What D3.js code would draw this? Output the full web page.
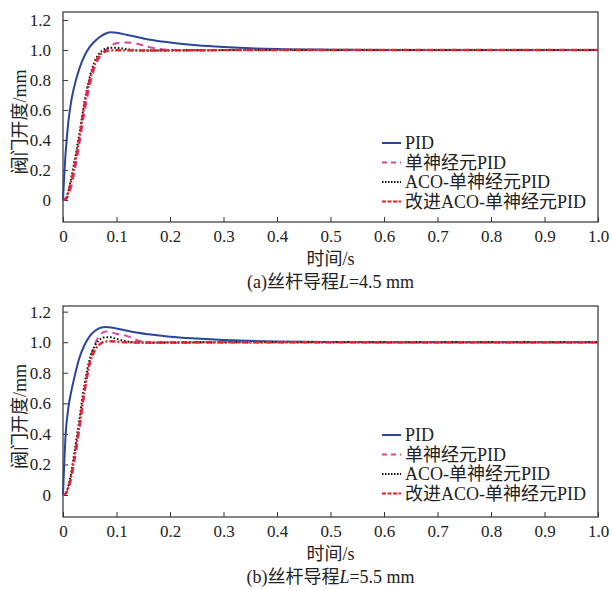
<!DOCTYPE html>
<html>
<head>
<meta charset="utf-8">
<script src="https://cdn.jsdelivr.net/npm/d3@7"></script>
<style>
	body { margin: 0; background: #fff; }
	text { font-family: "Liberation Serif", "Noto Sans CJK SC", serif; fill: #222; }
</style>
</head>
<body>
<div class="c-svg"></div>
<script>
//DATA
//-------------------------------------------------------------------------

const seriesNames = ["PID", "单神经元PID", "ACO-单神经元PID", "改进ACO-单神经元PID"];
const xTicks = [0, 0.1, 0.2, 0.3, 0.4, 0.5, 0.6, 0.7, 0.8, 0.9, 1.0];
const yTicks = [0, 0.2, 0.4, 0.6, 0.8, 1.0, 1.2];
const captions = ["(a)丝杆导程", "(b)丝杆导程"];
const leads = ["=4.5 mm", "=5.5 mm"];

const time = [0, 0.005, 0.01, 0.015, 0.02, 0.03, 0.04, 0.05, 0.06, 0.07, 0.08, 0.09, 0.1, 0.12, 0.14, 0.16, 0.2, 0.25, 0.3, 0.4, 0.5, 0.6, 1.0];

//panel (a) L=4.5 mm
const pidA    = [0, 0.32, 0.52, 0.65, 0.74, 0.87, 0.96, 1.02, 1.06, 1.09, 1.11, 1.118, 1.115, 1.1, 1.085, 1.07, 1.05, 1.032, 1.02, 1.006, 1.002, 1.0, 1.0];
const neuronA = [0, 0.004, 0.03, 0.08, 0.16, 0.36, 0.58, 0.76, 0.89, 0.96, 1.0, 1.03, 1.045, 1.05, 1.04, 1.02, 1.0, 0.998, 0.999, 1.0, 1.0, 1.0, 1.0];
const acoA    = [0, 0.01, 0.06, 0.14, 0.23, 0.43, 0.65, 0.82, 0.93, 0.985, 1.008, 1.015, 1.014, 1.005, 0.998, 0.996, 0.997, 0.998, 0.999, 1.0, 1.0, 1.0, 1.0];
const impA    = [0, 0.008, 0.05, 0.12, 0.2, 0.4, 0.63, 0.8, 0.91, 0.97, 0.99, 0.997, 0.998, 0.997, 0.996, 0.996, 0.997, 0.998, 0.999, 1.0, 1.0, 1.0, 1.0];

//panel (b) L=5.5 mm
const pidB    = [0, 0.4, 0.57, 0.67, 0.75, 0.89, 0.98, 1.04, 1.075, 1.095, 1.1, 1.097, 1.09, 1.075, 1.062, 1.052, 1.036, 1.024, 1.015, 1.005, 1.002, 1.0, 1.0];
const neuronB = [0, 0.008, 0.04, 0.1, 0.19, 0.41, 0.66, 0.87, 0.99, 1.05, 1.07, 1.065, 1.055, 1.04, 1.012, 0.998, 0.996, 0.998, 0.999, 1.0, 1.0, 1.0, 1.0];
const acoB    = [0, 0.012, 0.06, 0.14, 0.25, 0.48, 0.72, 0.89, 0.98, 1.02, 1.033, 1.032, 1.022, 1.005, 0.998, 0.997, 0.998, 0.999, 1.0, 1.0, 1.0, 1.0, 1.0];
const impB    = [0, 0.01, 0.05, 0.12, 0.22, 0.44, 0.68, 0.86, 0.95, 0.99, 1.005, 1.006, 1.003, 0.999, 0.998, 0.998, 0.999, 1.0, 1.0, 1.0, 1.0, 1.0, 1.0];


//OPTIONS
//-------------------------------------------------------------------------

const opts = {
	width: 612,
	height: 590,
	left: 63,
	right: 598
};

const styles = [
	{ color: "#2b4698", width: 2, dash: null },
	{ color: "#d2479b", width: 2, dash: "7,5" },
	{ color: "#111111", width: 2, dash: "1.6,2" },
	{ color: "#e3242b", width: 2.4, dash: "6,2,2,2" }
];

const panels = [
	{ top: 12, bottom: 222, domain: [-0.147, 1.253], series: [pidA, neuronA, acoA, impA], legendY: 143 },
	{ top: 306, bottom: 517, domain: [-0.144, 1.237], series: [pidB, neuronB, acoB, impB], legendY: 435 }
];

const svg = d3.select(".c-svg")
	.append("svg")
	.attr("width", opts.width)
	.attr("height", opts.height);

const x = d3.scaleLinear()
	.domain([0, 1])
	.range([opts.left, opts.right]);


//PANELS
//-------------------------------------------------------------------------

panels.forEach((p, i) => {

	const y = d3.scaleLinear()
		.domain(p.domain)
		.range([p.bottom, p.top]);

	const g = svg.append("g").attr("class", "panel");

	//axes, ticks inward
	const xAxis = d3.axisBottom(x)
		.tickValues(xTicks)
		.tickSizeInner(-5)
		.tickSizeOuter(0)
		.tickPadding(10)
		.tickFormat((d) => d === 0 ? "0" : d3.format(".1f")(d));

	const yAxis = d3.axisLeft(y)
		.tickValues(yTicks)
		.tickSizeInner(-5)
		.tickSizeOuter(0)
		.tickPadding(12)
		.tickFormat((d) => d === 0 ? "0" : d3.format(".1f")(d));

	g.append("g")
		.attr("class", "axis x_axis")
		.attr("transform", `translate(0 ${p.bottom})`)
		.call(xAxis);

	g.append("g")
		.attr("class", "axis y_axis")
		.attr("transform", `translate(${opts.left} 0)`)
		.call(yAxis);

	g.selectAll(".axis text")
		.style("font-size", "17px")
		.style("font-family", "Liberation Serif, serif")
		.attr("fill", "#222");

	g.selectAll(".x_axis text").attr("y", 8);

	g.selectAll(".axis line").attr("stroke", "#333");
	g.selectAll(".axis .domain").remove();

	//frame
	g.append("rect")
		.attr("x", opts.left)
		.attr("y", p.top)
		.attr("width", opts.right - opts.left)
		.attr("height", p.bottom - p.top)
		.attr("fill", "none")
		.attr("stroke", "#333")
		.attr("stroke-width", 1.2);

	//lines
	const line = d3.line()
		.x((d, k) => x(time[k]))
		.y((d) => y(d))
		.curve(d3.curveMonotoneX);

	p.series.forEach((s, k) => {
		g.append("path")
			.datum(s)
			.attr("d", line)
			.attr("fill", "none")
			.attr("stroke", styles[k].color)
			.attr("stroke-width", styles[k].width)
			.attr("stroke-dasharray", styles[k].dash);
	});

	//legend
	const lg = g.append("g")
		.attr("transform", `translate(382 ${p.legendY})`);

	seriesNames.forEach((name, k) => {
		const row = lg.append("g").attr("transform", `translate(0 ${k * 19.5})`);
		row.append("line")
			.attr("x1", 0).attr("x2", 19)
			.attr("y1", 0).attr("y2", 0)
			.attr("stroke", styles[k].color)
			.attr("stroke-width", 2)
			.attr("stroke-dasharray", k === 1 ? "5,4" : k === 2 ? "1.5,1.5" : k === 3 ? "4,1.5" : null);
		row.append("text")
			.attr("x", 23)
			.attr("y", 6)
			.style("font-size", "18px")
			.text(name);
	});

	//axis titles
	g.append("text")
		.attr("x", (opts.left + opts.right) / 2)
		.attr("y", p.bottom + 43)
		.attr("text-anchor", "middle")
		.style("font-size", "18px")
		.text("时间/s");

	const cap = g.append("text")
		.attr("x", (opts.left + opts.right) / 2)
		.attr("y", p.bottom + 66)
		.attr("text-anchor", "middle")
		.style("font-size", "18px");
	cap.append("tspan").text(captions[i]);
	cap.append("tspan").style("font-style", "italic").text("L");
	cap.append("tspan").text(leads[i]);

	g.append("text")
		.attr("transform", `translate(26 ${(p.top + p.bottom) / 2 + 5}) rotate(-90)`)
		.attr("text-anchor", "middle")
		.style("font-size", "18px")
		.text("阀门开度/mm");
});
</script>
</body>
</html>
